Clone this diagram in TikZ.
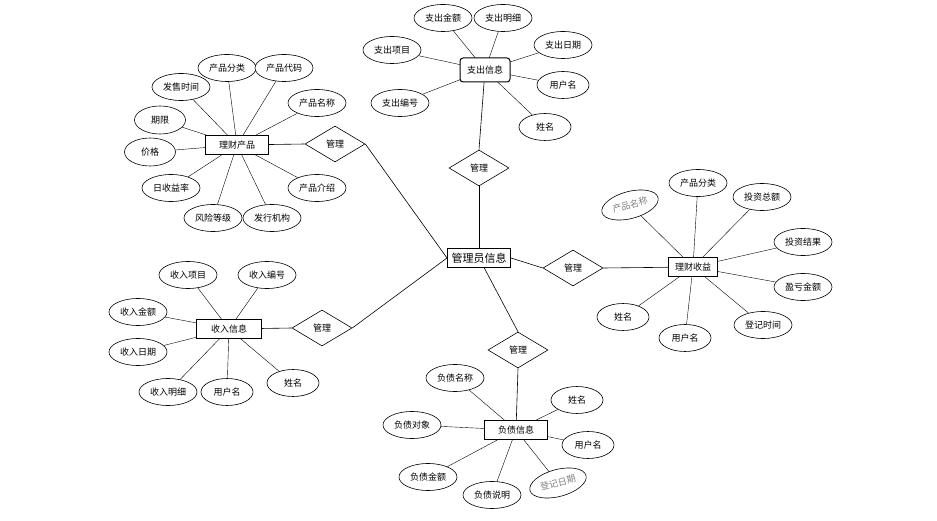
\documentclass[tikz,border=0pt]{standalone}
\usepackage{fontspec}
\setmainfont{Noto Sans CJK SC}
\usetikzlibrary{shapes,backgrounds}
\tikzset{
  att/.style={ellipse,draw,fill=white,inner sep=0pt,minimum width=58,minimum height=27,font=\fontsize{9}{10}\selectfont},
  attg/.style={att,text=gray,rotate=15},
  ent/.style={rectangle,draw,fill=white,line width=1pt,inner sep=0pt,minimum width=63,minimum height=19,font=\fontsize{9}{10}\selectfont},
  rel/.style={diamond,draw,fill=white,inner sep=0pt,minimum width=60,minimum height=36,font=\fontsize{9}{10}\selectfont},
}
\newcommand{\attnode}{\node[att]}
\newcommand{\entnode}{\node[ent]}
\newcommand{\relnode}{\node[rel]}
\begin{document}
\begin{tikzpicture}[x=1pt,y=-1pt,line width=0.6pt]
      \useasboundingbox (0,0) rectangle (937,521);
      % admin
      \node[ent,minimum width=63,font=\fontsize{11}{12}\selectfont] (adm) at (479,258) {管理员信息};
      % entities
      \entnode (lccp) at (237,145) {理财产品}; %
      \entnode[rounded corners=3pt,minimum width=50,minimum height=24] (zcxx) at (485,70) {支出信息}; %
      \entnode[minimum width=65] (srxx) at (229,329) {收入信息}; %
      \entnode (fzxx) at (516,430) {负债信息}; %
      \entnode[minimum width=49] (lcsy) at (693,267) {理财收益}; %
      % relations
      \relnode (gl1) at (335,144) {管理};
      \relnode (gl2) at (479,168) {管理};
      \relnode (gl3) at (322,328) {管理};
      \relnode (gl4) at (518,350) {管理};
      \relnode (gl5) at (573,268) {管理};
      % 理财产品
      \attnode (cp1) at (227,68) {产品分类};
      \attnode (cp2) at (284,68) {产品代码};
      \attnode (cp3) at (181,87) {发售时间};
      \attnode (cp4) at (317,103) {产品名称};
      \attnode[minimum width=51,minimum height=28] (cp5) at (160,120) {期限};
      \attnode[minimum width=51,minimum height=28] (cp6) at (150,152) {价格};
      \attnode (cp7) at (171,188) {日收益率};
      \attnode (cp8) at (317,188) {产品介绍};
      \attnode (cp9) at (213,218) {风险等级};
      \attnode (cp10) at (272,218) {发行机构};
      % 支出信息
      \attnode (zc1) at (443,18) {支出金额};
      \attnode (zc2) at (503,18) {支出明细};
      \attnode (zc3) at (392,50) {支出项目};
      \attnode (zc4) at (563,45) {支出日期};
      \attnode[minimum width=52] (zc5) at (563,85) {用户名};
      \attnode (zc6) at (400,103) {支出编号};
      \attnode[minimum width=52] (zc7) at (545,127) {姓名};
      % 收入信息
      \attnode (sr1) at (188,275) {收入项目};
      \attnode (sr2) at (267,275) {收入编号};
      \attnode (sr3) at (138,312) {收入金额};
      \attnode (sr4) at (138,352) {收入日期};
      \attnode (sr5) at (168,392) {收入明细};
      \attnode[minimum width=52] (sr6) at (227,392) {用户名};
      \attnode[minimum width=52] (sr7) at (293,383) {姓名};
      % 负债信息
      \attnode (fz1) at (455,378) {负债名称};
      \attnode[minimum width=52] (fz2) at (577,400) {姓名};
      \attnode (fz3) at (412,425) {负债对象};
      \attnode[minimum width=52] (fz4) at (588,445) {用户名};
      \attnode (fz5) at (428,477) {负债金额};
      \attnode (fz6) at (492,495) {负债说明};
      \node[attg] (fz7) at (558,483) {登记日期};
      % 理财收益
      \node[attg] (sy1) at (630,205) {产品名称};
      \attnode (sy2) at (698,183) {产品分类};
      \attnode (sy3) at (762,197) {投资总额};
      \attnode (sy4) at (803,242) {投资结果};
      \attnode (sy5) at (803,287) {盈亏金额};
      \attnode (sy6) at (763,325) {登记时间};
      \attnode[minimum width=52] (sy7) at (685,338) {用户名};
      \attnode[minimum width=52] (sy8) at (623,317) {姓名};
      \begin{scope}[on background layer]
      \draw (lccp.center) -- (cp1);
      \draw (lccp.center) -- (cp2);
      \draw (lccp.center) -- (cp3);
      \draw (lccp.center) -- (cp4);
      \draw (lccp.center) -- (cp5);
      \draw (lccp.center) -- (cp6);
      \draw (lccp.center) -- (cp7);
      \draw (lccp.center) -- (cp8);
      \draw (lccp.center) -- (cp9);
      \draw (lccp.center) -- (cp10);
      \draw (zcxx.center) -- (zc1);
      \draw (zcxx.center) -- (zc2);
      \draw (zcxx.center) -- (zc3);
      \draw (zcxx.center) -- (zc4);
      \draw (zcxx.center) -- (zc5);
      \draw (zcxx.center) -- (zc6);
      \draw (zcxx.center) -- (zc7);
      \draw (srxx.center) -- (sr1);
      \draw (srxx.center) -- (sr2);
      \draw (srxx.center) -- (sr3);
      \draw (srxx.center) -- (sr4);
      \draw (srxx.center) -- (sr5);
      \draw (srxx.center) -- (sr6);
      \draw (srxx.center) -- (sr7);
      \draw (fzxx.center) -- (fz1);
      \draw (fzxx.center) -- (fz2);
      \draw (fzxx.center) -- (fz3);
      \draw (fzxx.center) -- (fz4);
      \draw (fzxx.center) -- (fz5);
      \draw (fzxx.center) -- (fz6);
      \draw (fzxx.center) -- (fz7);
      \draw (lcsy.center) -- (sy1);
      \draw (lcsy.center) -- (sy2);
      \draw (lcsy.center) -- (sy3);
      \draw (lcsy.center) -- (sy4);
      \draw (lcsy.center) -- (sy5);
      \draw (lcsy.center) -- (sy6);
      \draw (lcsy.center) -- (sy7);
      \draw (lcsy.center) -- (sy8);
      \end{scope}
      % relations to entities
      \draw (gl1.west) -- (lccp);
      \draw (gl1.east) -- (adm.west);
      \draw (gl2.north) -- (zcxx);
      \draw (gl2.south) -- (adm.north);
      \draw (gl3.west) -- (srxx);
      \draw (gl3.east) -- (adm.west);
      \draw (adm) -- (gl4.north);
      \draw (gl4.south) -- (fzxx);
      \draw (adm.east) -- (gl5.west);
      \draw (gl5.east) -- (lcsy);
\end{tikzpicture}
\end{document}
